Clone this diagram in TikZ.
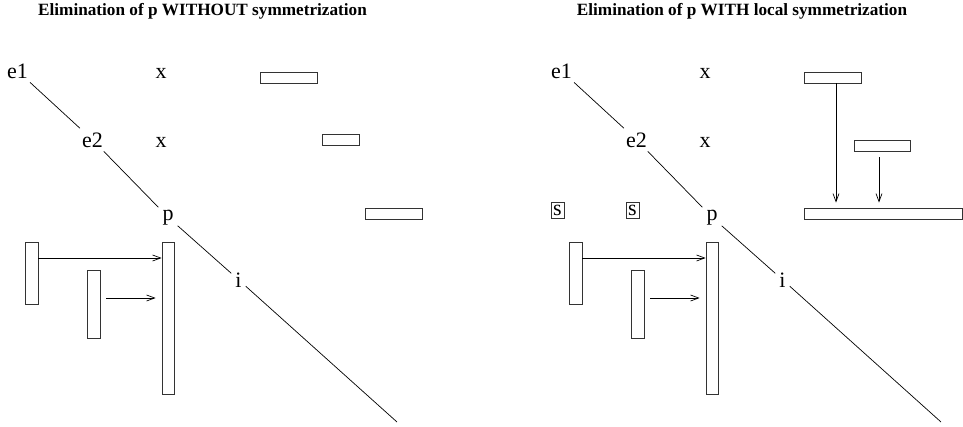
\documentclass[tikz,border=0pt]{standalone}
\usepackage{fontspec}
\setmainfont{Liberation Serif}
\usetikzlibrary{arrows.meta}
\begin{document}
\begin{tikzpicture}[x=1pt,y=-1pt,
  lbl/.style={inner sep=4pt,anchor=base,font=\fontsize{22}{24}\selectfont},
  ttl/.style={inner sep=0pt,anchor=base,font=\fontsize{17.2}{19}\selectfont\bfseries},
  blk/.style={draw=black!80,line width=0.8pt,inner sep=0pt,fill=white},
  sbox/.style={draw=black!80,line width=0.8pt,inner sep=0pt,minimum width=13pt,minimum height=16pt,font=\fontsize{22}{24}\selectfont},
  diag/.style={line width=0.7pt},
  arr/.style={line width=0.7pt,-{Straight Barb[length=8pt,width=6pt]}}]
\useasboundingbox (0,0) rectangle (963,426);

% ---------- left panel ----------
\node[ttl] (t1) at (202.5,15) {Elimination of p WITHOUT symmetrization};
\node[lbl] (e1) at (17.5,78) {e1};
\node[lbl] (x1) at (161,78) {x};
\node[lbl] (e2) at (92.5,147) {e2};
\node[lbl] (x2) at (161,147) {x};
\node[lbl] (p) at (168,220) {p};
\node[lbl] (i) at (238.5,287) {i};
\coordinate (iend) at (397,422);
\draw[diag] (e1) -- (e2);
\draw[diag] (e2) -- (p);
\draw[diag] (p) -- (i);
\draw[diag] (i) -- (iend);

\node[blk,minimum width=57pt,minimum height=11pt] (b1) at (288.5,77.5) {};
\node[blk,minimum width=37pt,minimum height=11pt] (b2) at (340.5,139.5) {};
\node[blk,minimum width=57pt,minimum height=11pt] (b3) at (393.5,213.5) {};

\node[blk,minimum width=13pt,minimum height=62pt] (A) at (31.5,273) {};
\node[blk,minimum width=13pt,minimum height=68pt] (B) at (93.5,304) {};
\node[blk,minimum width=12pt,minimum height=152pt] (C) at (168,318) {};
\coordinate (a1) at ([yshift=15pt]A.east);
\draw[arr] (a1) -- (a1 -| C.west);
\coordinate (a2) at ([yshift=6pt]B.east);
\draw[arr,shorten <=6pt,shorten >=6pt] (a2) -- (a2 -| C.west);

% ---------- right panel ----------
\node[ttl] (t2) at (742,15) {Elimination of p WITH local symmetrization};
\node[lbl] (re1) at (561.5,78) {e1};
\node[lbl] (rx1) at (705,78) {x};
\node[lbl] (re2) at (636.5,147) {e2};
\node[lbl] (rx2) at (705,147) {x};
\node[lbl] (rp) at (712,220) {p};
\node[lbl] (ri) at (782.5,287) {i};
\coordinate (riend) at (941,422);
\draw[diag] (re1) -- (re2);
\draw[diag] (re2) -- (rp);
\draw[diag] (rp) -- (ri);
\draw[diag] (ri) -- (riend);

\node[sbox] (s1) at (557.5,210) {s};
\node[sbox] (s2) at (632.5,210) {s};

\node[blk,minimum width=57pt,minimum height=11pt] (rb1) at (832.5,77.5) {};
\node[blk,minimum width=56pt,minimum height=11pt] (rb2) at (882,145.5) {};
\node[blk,minimum width=158pt,minimum height=11pt] (rl) at (883,213.5) {};
\coordinate (r1) at ([xshift=3.5pt]rb1.south);
\draw[arr,shorten >=5pt] (r1) -- (r1 |- rl.north);
\coordinate (r2) at ([xshift=-3pt]rb2.south);
\draw[arr,shorten <=6pt,shorten >=5pt] (r2) -- (r2 |- rl.north);

\node[blk,minimum width=13pt,minimum height=62pt] (rA) at (575.5,273) {};
\node[blk,minimum width=13pt,minimum height=68pt] (rB) at (637.5,304) {};
\node[blk,minimum width=12pt,minimum height=152pt] (rC) at (712,318) {};
\coordinate (ra1) at ([yshift=15pt]rA.east);
\draw[arr] (ra1) -- (ra1 -| rC.west);
\coordinate (ra2) at ([yshift=6pt]rB.east);
\draw[arr,shorten <=6pt,shorten >=6pt] (ra2) -- (ra2 -| rC.west);
\end{tikzpicture}
\end{document}
